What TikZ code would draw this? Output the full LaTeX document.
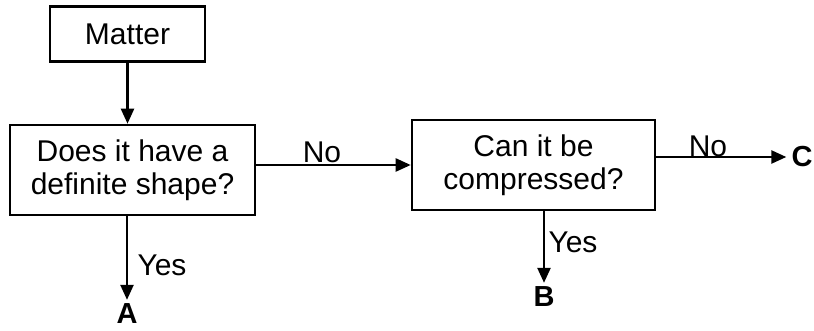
\documentclass[tikz,border=0pt]{standalone}
\usepackage{fontspec}
\setmainfont{Liberation Sans}
\usetikzlibrary{arrows.meta}
\begin{document}
\begin{tikzpicture}[x=1pt,y=1pt,
  every node/.style={font=\fontsize{30}{33}\selectfont},
  box/.style={draw, line width=2.6pt, align=center, inner sep=0pt},
  flow/.style={line width=2.4pt, -{Triangle[length=15pt,width=13pt]}},
  answer/.style={font=\fontsize{29}{32}\selectfont\bfseries, inner sep=0pt},
  lbl/.style={inner sep=0pt}]
\useasboundingbox (0,0) rectangle (814,-331);
% decision boxes
\node[box, minimum width=155pt, minimum height=55pt] (matter) at (127.5,-34) {Matter};
\node[box, minimum width=245pt, minimum height=90pt] (shape) at (132.5,-170) {Does it have a\\definite shape?};
\node[box, minimum width=243pt, minimum height=90pt] (comp) at (533.5,-165) {Can it be\\compressed?};
% outcomes
\node[answer] (A) at (127,-314) {A};
\node[answer] (B) at (544,-297) {B};
\node[answer] (C) at (802,-157) {C};
% connectors
\draw[flow] (matter.south) -- (matter.south |- shape.north);
\draw[flow] (comp.west -| shape.east) -- (comp.west);
\draw[flow] (shape.south -| A) -- ([yshift=4pt]A.north);
\draw[flow] (C.west -| comp.east) -- ([xshift=-5pt]C.west);
\draw[flow] (comp.south -| B) -- ([yshift=4pt]B.north);
% branch labels
\node[lbl] (no1) at (322,-152) {No};
\node[lbl] (yes1) at (162,-265) {Yes};
\node[lbl] (no2) at (708,-146) {No};
\node[lbl] (yes2) at (573,-242) {Yes};
\end{tikzpicture}
\end{document}
